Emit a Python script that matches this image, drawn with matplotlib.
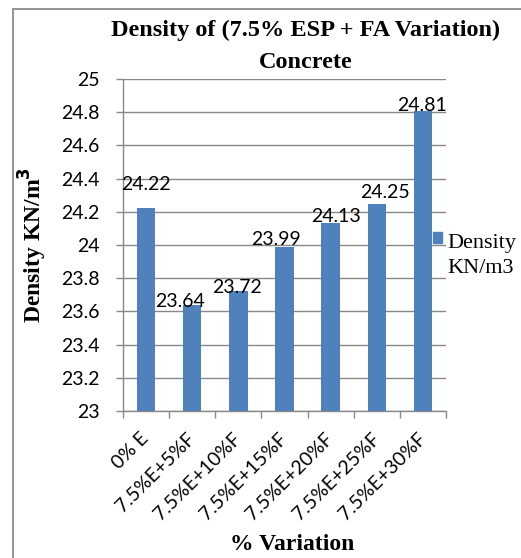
import matplotlib
matplotlib.use('Agg')
import matplotlib.pyplot as plt, numpy as np
from matplotlib.patches import Rectangle

categories = ['0% E','7.5%E+5%F','7.5%E+10%F','7.5%E+15%F','7.5%E+20%F','7.5%E+25%F','7.5%E+30%F']
density    = [24.22, 23.64, 23.72, 23.99, 24.13, 24.25, 24.81]
yticks     = [23, 23.2, 23.4, 23.6, 23.8, 24, 24.2, 24.4, 24.6, 24.8, 25]
ytick_lbls = ['23','23.2','23.4','23.6','23.8','24','24.2','24.4','24.6','24.8','25']

# nudges (pixels) for the value labels so they sit like the spreadsheet placed them
lbl_dx = [0, -12, -1, -8, 5, 8, -1]
lbl_dy = [24, 3, 4, 7, 7, 11, 5]

bar_c  = '#4f81bd'
grid_c = '#898989'
sans   = 'Lato'
serif  = 'Liberation Serif'

fig = plt.figure(figsize=(5.21,5.58), dpi=100)
ax  = fig.add_axes([123/521, 147/558, 323/521, 332/558])

x = np.arange(len(categories))
ax.bar(x, density, width=0.4, color=bar_c, zorder=3)
ax.set_xlim(-0.5, len(categories)-0.5)
ax.set_ylim(23, 25)

ax.set_yticks(yticks)
ax.set_yticklabels(ytick_lbls, fontfamily=sans, fontsize=14)
ax.yaxis.grid(True, color=grid_c, lw=1.0, zorder=0)
ax.tick_params(axis='y', length=5, width=1.0, color=grid_c, pad=12)

ax.set_xticks(x)
ax.set_xticklabels(categories, fontfamily=sans, fontsize=14, rotation=45,
                   ha='right', va='center', rotation_mode='anchor')
ax.set_xticks(np.arange(len(categories)+1)-0.5, minor=True)
ax.tick_params(axis='x', which='major', length=0, pad=18)
ax.tick_params(axis='x', which='minor', length=5, width=1.0, color=grid_c)

for s in ['top','right']:
    ax.spines[s].set_visible(False)
for s in ['left','bottom']:
    ax.spines[s].set_color(grid_c)
    ax.spines[s].set_linewidth(1.0)

for xi, v, dx, dy in zip(x, density, lbl_dx, lbl_dy):
    ax.annotate('%.2f' % v, (xi, v), xytext=(dx, dy), textcoords='offset pixels',
                ha='center', va='center', fontfamily=sans, fontsize=14, zorder=4)

fig.text(33/521, 1-245/558, 'Density KN/m$^\\mathbf{3}$', fontfamily=serif, fontweight='bold',
         fontsize=17, rotation=90, ha='center', va='center')
fig.text(292/521, 1-545/558, '% Variation', fontfamily=serif, fontweight='bold', fontsize=17,
         ha='center', va='center')

fig.text(306/521, 1-30/558, 'Density of (7.5% ESP + FA Variation)', fontfamily=serif,
         fontweight='bold', fontsize=17.5, ha='center', va='center')
fig.text(306/521, 1-62/558, 'Concrete', fontfamily=serif, fontweight='bold', fontsize=17.5,
         ha='center', va='center')

# legend drawn by hand: square key plus two-line serif text
fig.patches.append(Rectangle((433/521, 1-243/558), 9/521, 11/558, transform=fig.transFigure,
                             color=bar_c, zorder=5))
fig.text(447/521, 1-243/558, 'Density', fontfamily=serif, fontsize=16, ha='left', va='center')
fig.text(447/521, 1-269/558, 'KN/m3', fontfamily=serif, fontsize=16, ha='left', va='center')

# chart frame
fig.patches.append(Rectangle((13/521, -0.05), 1.0, 1.05-9/558, transform=fig.transFigure,
                             fill=False, ec='#8c8c8c', lw=1.3, zorder=0))

fig.savefig('out.png', dpi=100)
